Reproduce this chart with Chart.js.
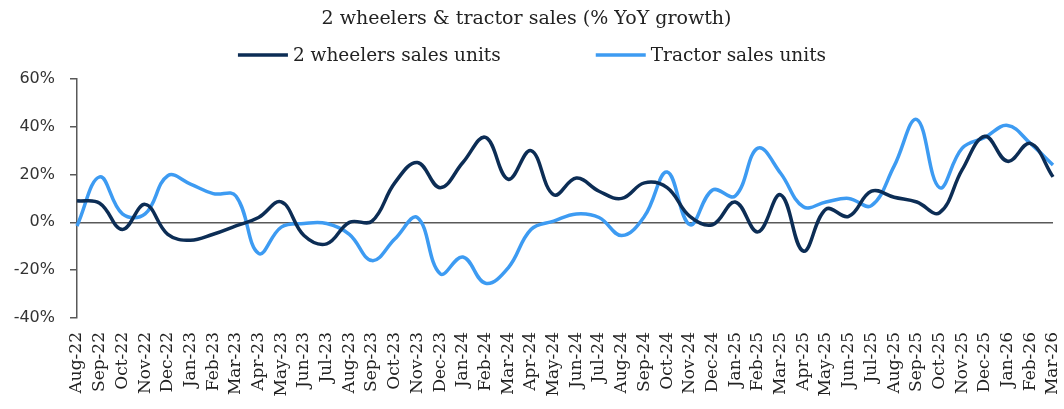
<!DOCTYPE html>
<html>
<head>
<meta charset="utf-8">
<script src="https://cdn.jsdelivr.net/npm/chart.js@4.4.0/dist/chart.umd.min.js"></script>
<style>
  html, body { margin: 0; padding: 0; background: #fff; }
</style>
</head>
<body>
<canvas id="salesChart" width="1064" height="409"></canvas>
<script>
/* DATA */
let months = ["Aug-22","Sep-22","Oct-22","Nov-22","Dec-22","Jan-23","Feb-23","Mar-23","Apr-23","May-23","Jun-23","Jul-23",
    "Aug-23","Sep-23","Oct-23","Nov-23","Dec-23","Jan-24","Feb-24","Mar-24","Apr-24","May-24","Jun-24","Jul-24",
    "Aug-24","Sep-24","Oct-24","Nov-24","Dec-24","Jan-25","Feb-25","Mar-25","Apr-25","May-25","Jun-25","Jul-25",
    "Aug-25","Sep-25","Oct-25","Nov-25","Dec-25","Jan-26","Feb-26","Mar-26"];

let twoWheelers = [9, 8, -3, 7.5, -5, -7.5, -5, -1.5, 2, 8.5, -5.5, -9,
    0, 0.5, 16.5, 25, 14.5, 25, 35.5, 18, 30, 11.5, 18.5, 13,
    10, 16.5, 14.5, 2.5, -1, 8.5, -4, 11.5, -12, 5.5, 2.5, 13,
    10.5, 8.5, 4, 22, 36, 25.5, 33, 19];

let tractors = [-1.5, 19, 3.5, 3.5, 19.5, 16, 12, 11, -13, -2, -0.5, -0.5,
    -5, -16, -7, 2, -21.5, -14.5, -25.5, -19, -3, 0.5, 3.5, 2,
    -5.5, 2.5, 21, -1, 13.5, 11, 31, 20.5, 6.5, 8.5, 10, 7,
    23.5, 43, 14.5, 31, 35.5, 40.5, 33, 24];

let yTicks = [-40, -20, 0, 20, 40, 60];

let serif = '"DejaVu Serif", "Liberation Serif", serif';

/* LEGEND (drawn under title, centred) */
const topLegend = {
    id: "topLegend",
    afterDraw(chart) {
        let ctx = chart.ctx;
        let sets = chart.data.datasets;
        let sample = 50, gap = 5, spacing = 95;
        ctx.save();
        ctx.font = "18.5px " + serif;
        ctx.textBaseline = "middle";
        let widths = sets.map(d => sample + gap + ctx.measureText(d.label).width);
        let total = widths.reduce((a, b) => a + b, 0) + spacing * (sets.length - 1);
        let x = (chart.width - total) / 2;
        let y = 55;
        sets.forEach((d, i) => {
            ctx.strokeStyle = d.borderColor;
            ctx.lineWidth = 3.5;
            ctx.beginPath();
            ctx.moveTo(x, y);
            ctx.lineTo(x + sample, y);
            ctx.stroke();
            ctx.fillStyle = "#222";
            ctx.fillText(d.label, x + sample + gap, y + 1);
            x += widths[i] + spacing;
        });
        ctx.restore();
    }
};

/* CHART */
new Chart(document.getElementById("salesChart"), {
    type: "line",
    data: {
        labels: months,
        datasets: [
            {
                label: "2 wheelers sales units",
                data: twoWheelers,
                borderColor: "#0c2d55",
                borderWidth: 3.5,
                tension: 0.4,
                pointRadius: 0
            },
            {
                label: "Tractor sales units",
                data: tractors,
                borderColor: "#3d9bf2",
                borderWidth: 3.5,
                tension: 0.4,
                pointRadius: 0
            }
        ]
    },
    options: {
        responsive: false,
        animation: false,
        devicePixelRatio: 1,
        clip: false,
        layout: { padding: { left: 0, right: 11, top: 0, bottom: 0 } },
        plugins: {
            legend: { display: false },
            tooltip: { enabled: false },
            title: {
                display: true,
                text: "2 wheelers & tractor sales (% YoY growth)",
                color: "#222",
                font: { family: serif, size: 19, weight: "normal" },
                padding: { top: 8, bottom: 48 }
            }
        },
        scales: {
            x: {
                offset: false,
                grid: { display: false },
                border: { display: false },
                ticks: {
                    autoSkip: false,
                    maxRotation: 90,
                    minRotation: 90,
                    padding: 6,
                    color: "#222",
                    font: { family: serif, size: 17 }
                },
                afterFit: s => { s.height = 91; s.paddingLeft = 0; s.paddingRight = 0; }
            },
            y: {
                min: -40,
                max: 60,
                afterBuildTicks: s => { s.ticks = yTicks.map(v => ({ value: v })); },
                grid: {
                    color: c => c.tick && c.tick.value === 0 ? "#595959" : "rgba(0,0,0,0)",
                    lineWidth: 1.5,
                    tickColor: "#595959",
                    tickLength: 7
                },
                border: { display: true, color: "#595959", width: 1.5 },
                ticks: {
                    padding: 15,
                    color: "#333",
                    font: { family: '"DejaVu Sans", sans-serif', size: 16 },
                    callback: v => v + "%"
                },
                afterFit: s => { s.width = 77; }
            }
        }
    },
    plugins: [topLegend]
});
</script>
</body>
</html>
